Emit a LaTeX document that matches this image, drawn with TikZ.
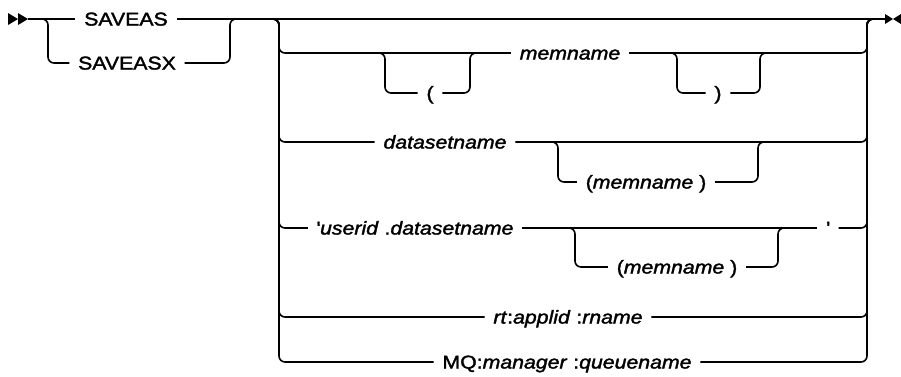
\documentclass[tikz,border=0pt]{standalone}
\usepackage{fontspec}
\setmainfont{Liberation Sans}[FakeStretch=1.15,FakeBold=1.8]
\usepackage{tikz}
\usetikzlibrary{positioning}

\begin{document}
\begin{tikzpicture}[x=1pt,y=-1pt,line width=1.6pt,
    rail/.style={draw,rounded corners=6pt},
    word/.style={inner xsep=8pt,inner ysep=0pt,text height=13pt,text depth=0pt,
      font=\fontsize{18.5}{22}\selectfont}]
  \useasboundingbox (0,0) rectangle (901,376);
  % start and end marks
  \coordinate (start) at (28,19);
  \coordinate (stop) at (885,19);
  \fill (8,13) -- (18,19) -- (8,25) -- cycle;
  \fill (18,13) -- (28,19) -- (18,25) -- cycle;
  \fill (885,14) -- (893,19) -- (885,24) -- cycle;
  \fill (901,14) -- (893,19) -- (901,24) -- cycle;
  % first choice
  \node[word] (saveas) at (126,19) {SAVEAS};
  \node[word] (saveasx) at (127,63) {SAVEASX};
  \draw[rail] (start) -- (saveas.west);
  \draw[rail] (start) -| (48,63) -- (saveasx.west);
  \draw[rail] (saveasx.east) -| (230,19) -- ++(10,0);
  \draw[rail] (saveas.east) -- (stop);
  % second choice
  \coordinate (cl) at (270,19);
  \coordinate (cr) at (876,19);
  % memname row
  \node[word] (memname) at (570,53) {\itshape memname};
  \node[word] (lpar) at (430,93) {(};
  \node[word] (rpar) at (718,93) {)};
  \draw[rail] (cl) -| (279,53) -- (memname.west);
  \draw[rail] (memname.east) -| (867,19) -- (cr);
  \draw[rail] (375,53) -| (385,93) -- (lpar.west);
  \draw[rail] (lpar.east) -| (470,53) -- ++(10,0);
  \draw[rail] (667,53) -| (677,93) -- (rpar.west);
  \draw[rail] (rpar.east) -| (760,53) -- ++(10,0);
  % datasetname row
  \node[word] (dsname) at (445,142) {\itshape datasetname};
  \node[word] (dsmem) at (646,182) {(\textit{memname} )};
  \draw[rail] (cl) -| (279,142) -- (dsname.west);
  \draw[rail] (dsname.east) -| (867,19) -- (cr);
  \draw[rail] (548,142) -| (558,182) -- (dsmem.west);
  \draw[rail] (dsmem.east) -| (758,142) -- ++(10,0);
  % userid row
  \node[word] (userds) at (415,228) {\textquotesingle\textit{userid} .\textit{datasetname}};
  \node[word] (usermem) at (677,267) {(\textit{memname} )};
  \node[word] (quote) at (828,228) {\textquotesingle};
  \draw[rail] (cl) -| (279,228) -- (userds.west);
  \draw[rail] (userds.east) -- (quote.west);
  \draw[rail] (quote.east) -| (867,19) -- (cr);
  \draw[rail] (565,228) -| (575,267) -- (usermem.west);
  \draw[rail] (usermem.east) -| (778,228) -- ++(10,0);
  % rt row
  \node[word] (rtname) at (568,317) {\textit{rt}:\textit{applid} :\textit{rname}};
  \draw[rail] (cl) -| (279,317) -- (rtname.west);
  \draw[rail] (rtname.east) -| (867,19) -- (cr);
  % MQ row
  \node[word] (mqname) at (567,362) {MQ:\textit{manager} :\textit{queuename}};
  \draw[rail] (cl) -| (279,362) -- (mqname.west);
  \draw[rail] (mqname.east) -| (867,19) -- (cr);
\end{tikzpicture}
\end{document}
